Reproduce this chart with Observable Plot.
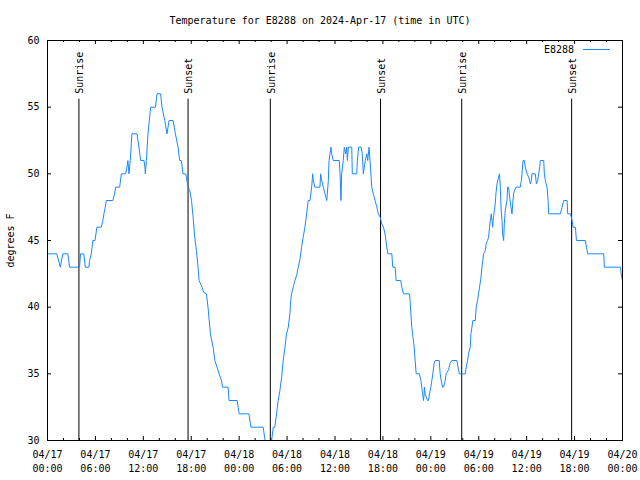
<!DOCTYPE html>
<html><head><meta charset="utf-8">
<script src="https://cdn.jsdelivr.net/npm/d3@7"></script>
<script src="https://cdn.jsdelivr.net/npm/@observablehq/plot@0.6"></script>
<style>
body{margin:0;background:#fff;}
#title{height:30px;box-sizing:border-box;padding-top:15px;text-align:center;font:10px "DejaVu Sans Mono",monospace;line-height:11px;color:#000;white-space:pre;}
</style></head><body>
<div id="title">Temperature for E8288 on 2024-Apr-17 (time in UTC)</div>
<div id="chart"></div>
<script>
const station = "E8288";
// minutes since 2024-04-17 00:00 UTC
const minutes = [
0,70,96,115,153,166,241,248,273,284,
311,316,329,341,357,371,404,416,424,434,
442,491,504,512,542,555,587,597,604,612,
622,634,672,687,700,725,732,735,743,755,
775,811,823,850,860,881,898,913,943,961,
981,993,1006,1018,1039,1056,1069,1082,1094,1106,
1119,1131,1139,1157,1174,1194,1206,1224,1244,1257,
1274,1289,1307,1315,1357,1364,1425,1440,1513,1528,
1620,1635,1648,1671,1684,1696,1708,1721,1733,1746,
1759,1771,1784,1796,1809,1821,1827,1834,1846,1859,
1872,1884,1897,1909,1921,1934,1947,1959,1972,1985,
1992,1997,2009,2047,2052,2060,2072,2085,2098,2110,
2115,2122,2130,2135,2147,2192,2198,2205,2210,2222,
2230,2241,2248,2253,2260,2286,2290,2323,2328,2338,
2356,2365,2373,2380,2388,2399,2406,2416,2423,2436,
2448,2461,2474,2486,2499,2511,2524,2536,2549,2557,
2587,2594,2612,2619,2654,2662,2674,2719,2724,2730,
2737,2745,2755,2762,2770,2794,2805,2812,2825,2830,
2832,2837,2855,2862,2870,2880,2895,2905,2913,2943,
2950,2958,2968,2975,2988,2995,3013,3025,3038,3076,
3088,3095,3138,3146,3156,3163,3176,3181,3189,3196,
3214,3221,3231,3238,3246,3257,3264,3272,3276,3289,
3296,3306,3314,3321,3327,3334,3339,3344,3351,3357,
3364,3369,3377,3389,3396,3402,3407,3415,3419,3427,
3432,3439,3452,3457,3464,3472,3482,3490,3497,3502,
3509,3520,3552,3560,3565,3573,3582,3590,3603,3615,
3628,3635,3640,3665,3673,3683,3690,3698,3703,3728,
3733,3740,3753,3761,3765,3853,3866,3878,3904,3908,
3929,3941,3949,3966,3974,4041,4049,4059,4179,4184,
4305,4310,4320];
// degrees F
const temps = [
44,44,43,44,44,43,43,44,44,43,
43,43.5,44,45,45,46,46,46.5,47,47.5,
48,48,48.5,49,49,50,50,50.5,51,50,
51,53,53,52,51,51,50.5,50,51,53,
55,55,56,56,55,54,53,54,54,53,
52,51,51,50,50,49,48.75,48,46.75,45.25,
44.25,43,42,41.6,41.1,41,40,38,37,36,
35.5,35,34.5,34,34,33,33,32,32,31,
31,30,29,29,30,31,31,32,33,33.75,
34.75,36,37,38,38.5,39.5,40.5,41,41.5,42,
42.4,43,43.6,44.5,45.25,46,47,48,48,49,
50,49.5,49,49,50,49.5,49,48.5,48,49.5,
51,51.5,52,51.5,51,51,50,48,50,51,
52,51.5,52,51,52,52,50,50,51,52,
52,51.5,50,50.5,51,51.5,51,52,51,49,
48.5,48,47.5,47,46.75,46.25,46,45.5,44.5,44,
44,43,43,42,42,41.5,41,41,40.5,39.5,
38.5,37.8,37,36,35,35,34.5,34,33,33.5,
34,33.5,33,33,33.5,34,35,35.8,36,36,
35,34.5,34,34,34.5,35,35.3,35.8,36,36,
35.3,35,35,35.5,36,36.5,37,38,38.5,39,
39,40,40.5,41,41.5,42.25,43,43.6,44,44.25,
44.75,45,45.25,46,46.5,47,46.5,46,46.75,47.25,
47.75,48.5,49.25,49.75,50,49,47.5,46.5,45.5,45,
46.25,47.25,48,49,49,48.25,47.5,47,48,48.5,
48.75,49,49,49.5,50,51,51,50.5,50,49.75,
49.25,49.5,50,50,49.25,49.5,50,50.5,51,51,
50,49.5,49,48,47,47,47.5,48,48,47,
47,46.5,46,46,45,45,44.5,44,44,43,
43,42.5,42];
// sunrise / sunset (minutes since 2024-04-17 00:00 UTC)
const sunMinutes = [236, 1056, 1674, 2502, 3112, 3938];
const sunLabels = ["Sunrise", "Sunset", "Sunrise", "Sunset", "Sunrise", "Sunset"];
// axes
const majorTickHours = [0,6,12,18,24,30,36,42,48,54,60,66,72];
const minorTickHours = [2,4,8,10,14,16,20,22,26,28,32,34,38,40,44,46,50,52,56,58,62,64,68,70];
const yTicks = [30,35,40,45,50,55,60];
const yLabel = "degrees F";

const start = Date.UTC(2024, 3, 17);
const atMin = m => new Date(start + m * 60000);
const atHour = h => new Date(start + h * 3600000);

const series = minutes.map((m, i) => ({time: atMin(m), temp: temps[i]}));
const sun = sunMinutes.map((m, i) => ({time: atMin(m), label: sunLabels[i]}));
const major = majorTickHours.map(atHour);
const minor = minorTickHours.map(atHour);

const W = 640, H = 450, mL = 47, mR = 18, mT = 10, mB = 40;
const pw = W - mL - mR, ph = H - mT - mB;
const lineColor = "#1a88ff";

const plot = Plot.plot({
  width: W, height: H,
  marginLeft: mL, marginRight: mR, marginTop: mT, marginBottom: mB,
  style: {fontFamily: "'DejaVu Sans Mono', monospace", fontSize: "10px", color: "#000", background: "#fff"},
  x: {type: "utc", domain: [atHour(0), atHour(72)]},
  y: {domain: [30, 60]},
  marks: [
    Plot.axisX({ticks: major, tickSize: 0, tickPadding: 8, lineHeight: 1.4,
      tickFormat: d3.utcFormat("%m/%d\n%H:%M"), label: null, fill: "#000"}),
    Plot.axisY({ticks: yTicks, tickSize: 0, tickPadding: 8, label: yLabel,
      labelAnchor: "center", labelOffset: 41, labelArrow: "none", fill: "#000"}),
    Plot.tickX(major, {x: d => d, insetTop: ph - 4, stroke: "#000"}),
    Plot.tickX(major, {x: d => d, insetBottom: ph - 4, stroke: "#000"}),
    Plot.tickX(minor, {x: d => d, insetTop: ph - 2, stroke: "#000"}),
    Plot.tickX(minor, {x: d => d, insetBottom: ph - 2, stroke: "#000"}),
    Plot.tickY(yTicks, {y: d => d, insetRight: pw - 4, stroke: "#000"}),
    Plot.tickY(yTicks, {y: d => d, insetLeft: pw - 4, stroke: "#000"}),
    Plot.ruleX(sun, {x: "time", y1: 30, y2: 55.6, stroke: "#000", strokeWidth: 1}),
    Plot.text(sun, {x: "time", y: 56, text: "label", rotate: -90, textAnchor: "start", fill: "#000", dx: 1}),
    Plot.line(series, {x: "time", y: "temp", stroke: lineColor, strokeWidth: 1, clip: true}),
    Plot.frame({stroke: "#000", strokeWidth: 1})
  ]
});

// legend entry inside the plot frame (top-right), as in the original
const svg = d3.select(plot);
const lg = svg.append("g").attr("font-family", "'DejaVu Sans Mono', monospace").attr("font-size", 10);
lg.append("text").attr("x", W - mR - 48).attr("y", mT + 9).attr("dy", "0.35em")
  .attr("text-anchor", "end").attr("fill", "#000").text(station);
lg.append("line").attr("x1", W - mR - 39).attr("x2", W - mR - 12)
  .attr("y1", mT + 9.5).attr("y2", mT + 9.5).attr("stroke", lineColor).attr("stroke-width", 1);

document.getElementById("chart").appendChild(plot);
</script>
</body></html>
